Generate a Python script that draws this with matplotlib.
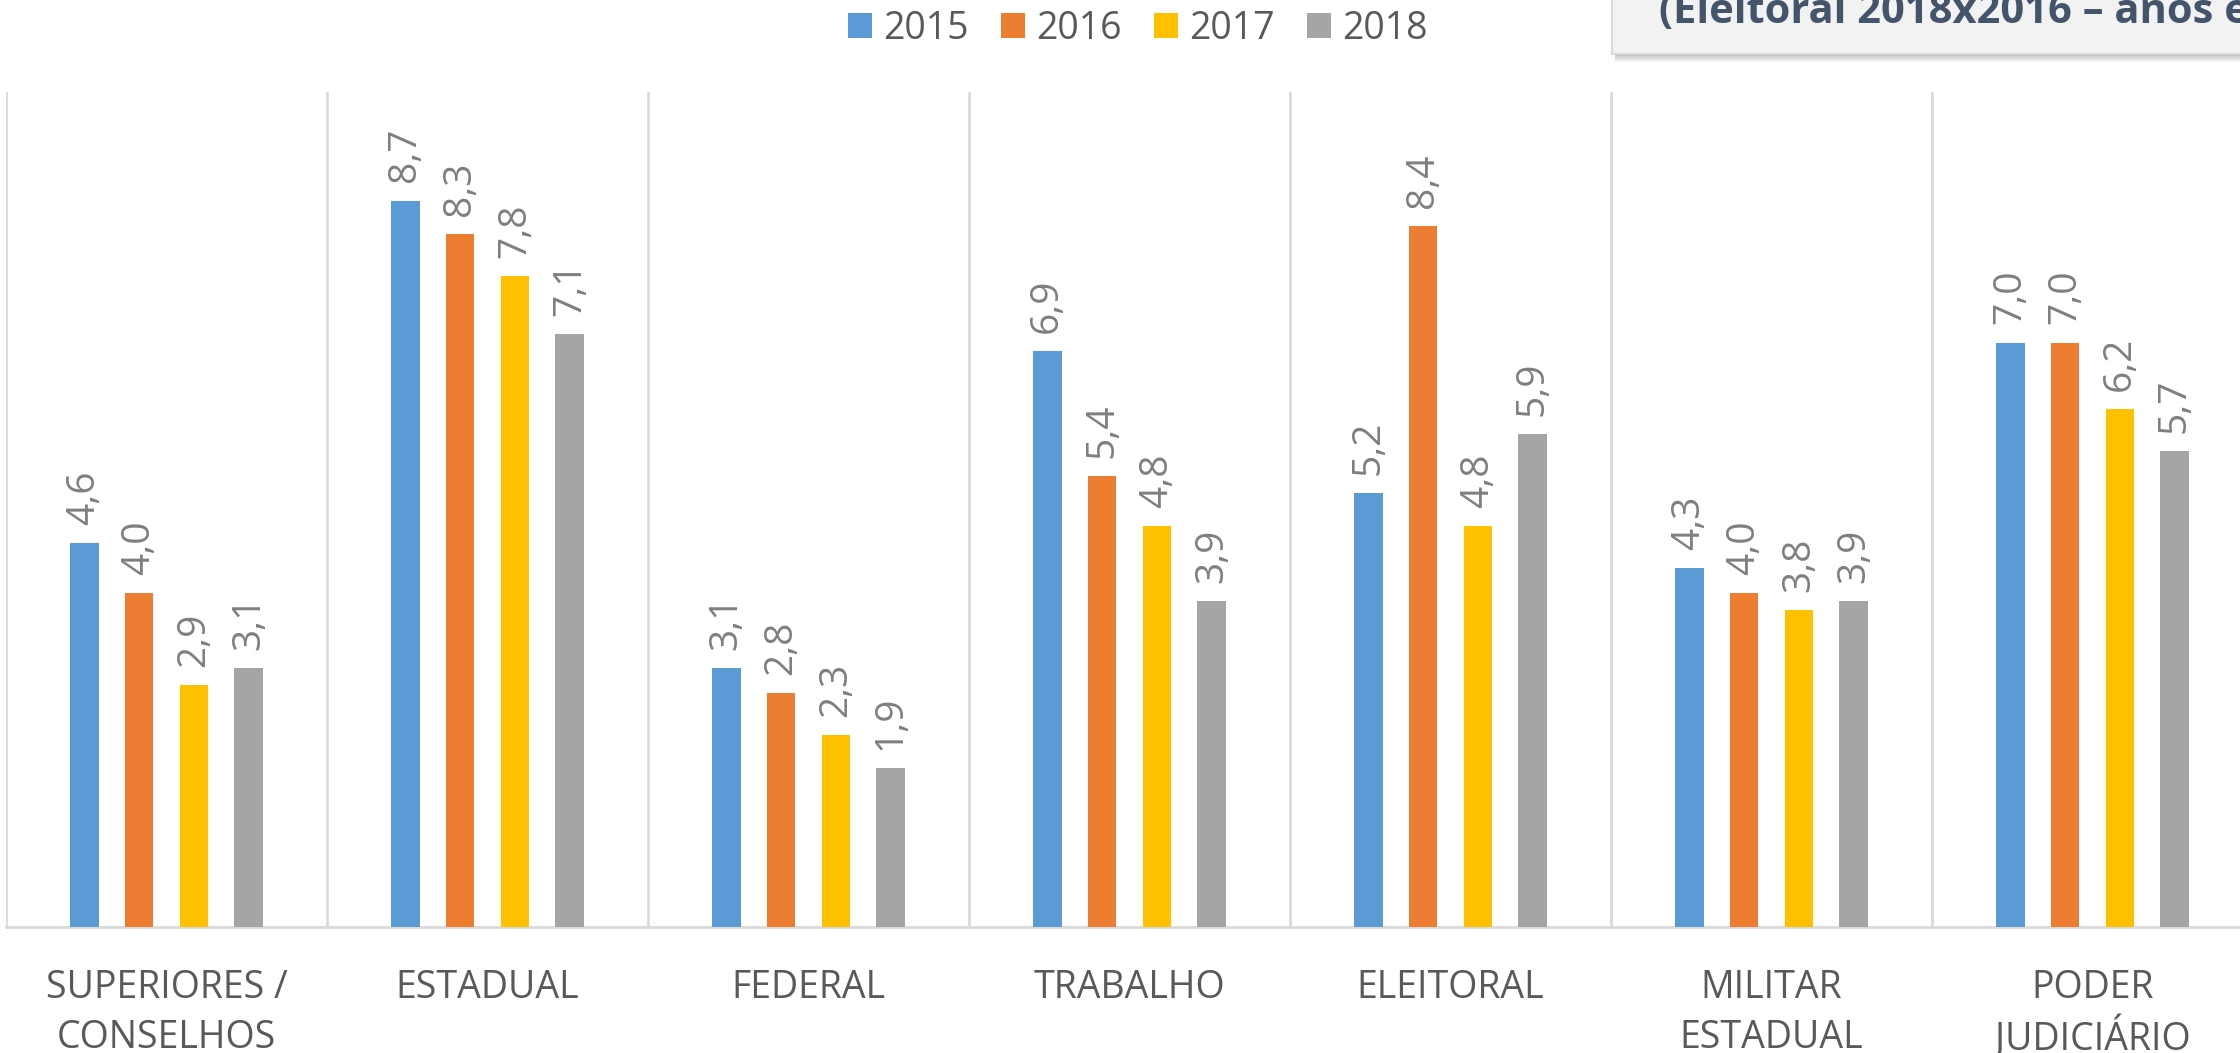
import matplotlib.pyplot as plt
from matplotlib.patches import Rectangle, Patch

plt.rcParams['font.family'] = ['Open Sans', 'DejaVu Sans']

# data
categories = ["SUPERIORES /\nCONSELHOS", "ESTADUAL", "FEDERAL", "TRABALHO",
              "ELEITORAL", "MILITAR\nESTADUAL", "PODER\nJUDICIÁRIO"]
years = ["2015", "2016", "2017", "2018"]
v2015 = [4.6, 8.7, 3.1, 6.9, 5.2, 4.3, 7.0]
v2016 = [4.0, 8.3, 2.8, 5.4, 8.4, 4.0, 7.0]
v2017 = [2.9, 7.8, 2.3, 4.8, 4.8, 3.8, 6.2]
v2018 = [3.1, 7.1, 1.9, 3.9, 5.9, 3.9, 5.7]
series = [v2015, v2016, v2017, v2018]
colors = ["#5b9bd5", "#ed7d31", "#ffc000", "#a5a5a5"]

W, H = 2240, 1053
fig = plt.figure(figsize=(W / 100, H / 100), dpi=100)

# axes run a bit past the right edge, like the cropped original
left, right_px = 6, 6 + 7 * 321
bottom_px, top_px = 927, 92
ax = fig.add_axes([left / W, 1 - bottom_px / H,
                   (right_px - left) / W, (bottom_px - top_px) / H])

bar_w = 0.09
step = 0.171
x = list(range(len(categories)))
for i, (vals, c) in enumerate(zip(series, colors)):
    off = (i - 1.5) * step
    xs = [xi + off for xi in x]
    ax.bar(xs, vals, width=bar_w, color=c, zorder=3)
    for xi, v in zip(xs, vals):
        ax.annotate(f"{v:.1f}".replace(".", ","), (xi, v),
                    xytext=(0, 13), textcoords="offset points",
                    rotation=90, ha="center", va="bottom",
                    fontsize=28, color="#7f7f7f")

ax.set_xlim(-0.5, len(categories) - 0.5)
ax.set_ylim(0, 10)
ax.set_yticks([])
ax.set_xticks(x)
labels = ax.set_xticklabels(categories, fontsize=27, color="#595959", linespacing=1.42)
# the accent on Á pushes the second line down, pull it back up
labels[-1].set_linespacing(1.28)
ax.tick_params(axis="x", length=0, pad=30)
ax.set_xticks([i - 0.5 for i in range(len(categories) + 1)], minor=True)
ax.tick_params(axis="x", which="minor", length=0)
ax.grid(which="minor", axis="x", color="#d9d9d9", linewidth=2, zorder=0)
for s in ["top", "right", "left"]:
    ax.spines[s].set_visible(False)
ax.spines["bottom"].set_color("#d9d9d9")
ax.spines["bottom"].set_linewidth(2)

# legend
handles = [Patch(facecolor=c, edgecolor="none", label=y) for y, c in zip(years, colors)]
fig.legend(handles=handles, loc="center", bbox_to_anchor=(1138 / W, 1 - 29 / H),
           ncol=4, frameon=False, fontsize=27, labelcolor="#595959",
           handlelength=0.65, handleheight=0.65, handletextpad=0.3,
           columnspacing=0.85, borderpad=0)

# cropped title box top right
bx, by = 1612 / W, 1 - 54 / H
for k, a in enumerate([0.10, 0.13, 0.16, 0.20]):
    d = (4 - k) * 2
    fig.add_artist(Rectangle((bx + 3 / W, by - d / H), 1, 0.2,
                             transform=fig.transFigure, facecolor="#808080",
                             edgecolor="none", alpha=a, zorder=4))
fig.add_artist(Rectangle((bx, by), 1, 0.2, transform=fig.transFigure,
                         facecolor="#f2f2f2", edgecolor="#d9d9d9",
                         linewidth=1.5, zorder=5))
fig.text(1659 / W, 1 - 23 / H, "(Eleitoral 2018x2016 – anos e",
         fontsize=30, fontweight="bold", color="#44546a",
         ha="left", va="baseline", zorder=6)

fig.savefig("out.png", dpi=100)
